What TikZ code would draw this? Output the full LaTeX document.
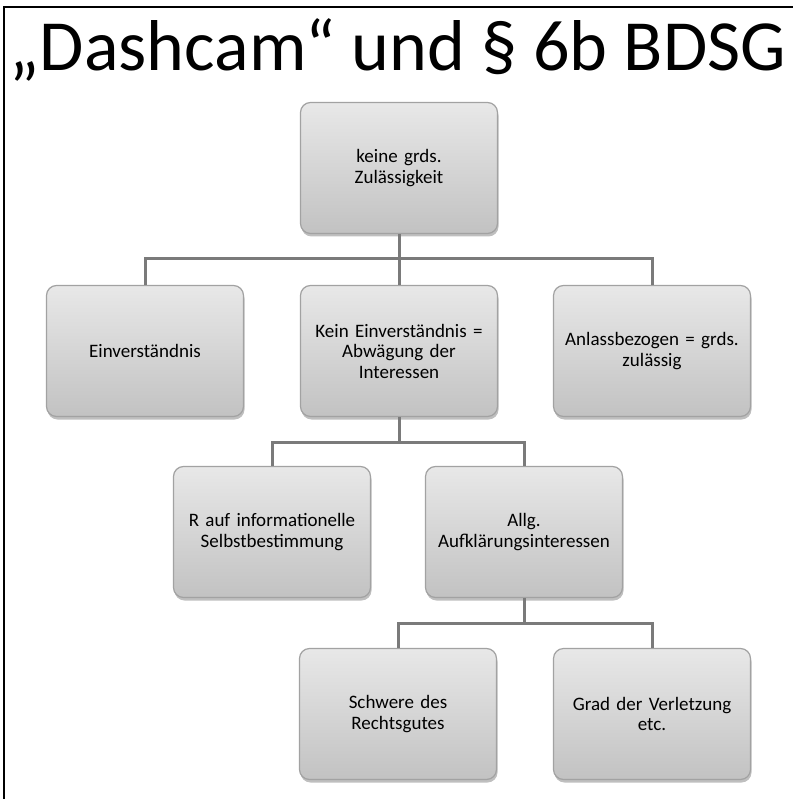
\documentclass[tikz,border=0pt]{standalone}
\usepackage{fontspec}
\setmainfont{Carlito}
\usetikzlibrary{shadows}
\definecolor{boxborder}{HTML}{A2A2A2}
\definecolor{boxtop}{HTML}{E8E8E8}
\definecolor{boxbot}{HTML}{C2C2C2}
\definecolor{linkcol}{HTML}{7A7A7A}
\tikzset{
  orgbox/.style={draw=boxborder, line width=1.2pt, rounded corners=10pt,
    top color=boxtop, bottom color=boxbot,
    minimum width=197pt, minimum height=131pt, text width=190pt, align=center,
    font=\fontsize{19}{20.5}\selectfont, inner sep=0pt,
    drop shadow={shadow xshift=1pt, shadow yshift=-3pt, opacity=0.25, fill=black}},
  link/.style={draw=linkcol, line width=3pt},
  frameline/.style={draw=black, line width=2pt}
}
\begin{document}
\begin{tikzpicture}[x=1pt,y=-1pt]
\useasboundingbox (0,0) rectangle (793,799);
\draw[frameline] (4,799) -- (4,7) -- (793,7);
\node[anchor=base, font=\fontsize{72}{76}\selectfont, inner sep=0pt] (title) at (398,71) {„Dashcam“ und § 6b BDSG};

\node[orgbox] (top) at (399,168) {keine grds.\\Zulässigkeit};
\node[orgbox] (ein) at (145,351) {Einverständnis};
\node[orgbox] (kein) at (399,351) {Kein Einverständnis =\\Abwägung der\\Interessen};
\node[orgbox] (anl) at (652,351) {Anlassbezogen = grds.\\zulässig};
\node[orgbox] (rinfo) at (272,532) {R auf informationelle\\Selbstbestimmung};
\node[orgbox] (allg) at (524,532) {Allg.\\Aufklärungsinteressen};
\node[orgbox] (schw) at (398,714) {Schwere des\\Rechtsgutes};
\node[orgbox] (grad) at (652,714) {Grad der Verletzung\\etc.};

\draw[link] (top.south) -- ++(0,24) coordinate (b1);
\draw[link] (b1) -| (ein.north);
\draw[link] (b1) -| (anl.north);
\draw[link] (b1) -- (kein.north);
\draw[link] (kein.south) -- ++(0,25) coordinate (b2);
\draw[link] (b2) -| (rinfo.north);
\draw[link] (b2) -| (allg.north);
\draw[link] (allg.south) -- ++(0,25) coordinate (b3);
\draw[link] (b3) -| (schw.north);
\draw[link] (b3) -| (grad.north);
\end{tikzpicture}
\end{document}
